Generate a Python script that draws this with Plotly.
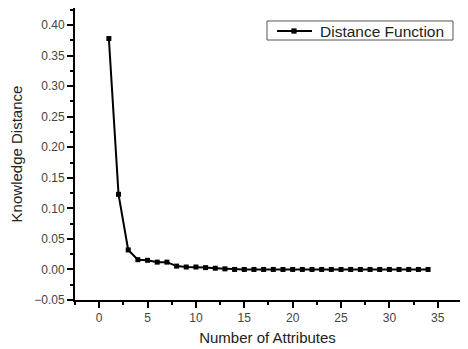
import plotly.graph_objects as go

attributes = list(range(1, 35))
distance = [0.378, 0.123, 0.032, 0.016, 0.015, 0.012, 0.012, 0.0055, 0.004, 0.004,
            0.003, 0.002, 0.001] + [0.0] * 21
series_name = "Distance Function"

fig = go.Figure()
fig.add_trace(go.Scatter(
    x=attributes, y=distance, mode="lines+markers", name=series_name,
    line=dict(color="black", width=2),
    marker=dict(symbol="square", size=5, color="black"),
    showlegend=False,
))

axis_common = dict(
    showline=True, linecolor="black", linewidth=2, mirror=False,
    ticks="outside", ticklen=6, tickwidth=2, tickcolor="black",
    showgrid=False, zeroline=False, automargin=False,
    tickfont=dict(family="Liberation Sans, Arial", size=12, color="#444"),
)

# legend box drawn in paper coordinates (styling only)
ly = 0.9212
shapes = [
    dict(type="rect", xref="paper", yref="paper", x0=0.4987, x1=0.9818, y0=0.8904, y1=0.9555,
         line=dict(color="#555", width=1), fillcolor="white", layer="above"),
    dict(type="line", xref="paper", yref="paper", x0=0.5247, x1=0.6156, y0=ly, y1=ly,
         line=dict(color="black", width=2), layer="above"),
    dict(type="rect", xref="paper", yref="paper", x0=0.5688 - 0.0068, x1=0.5688 + 0.0068,
         y0=ly - 0.009, y1=ly + 0.009, line=dict(color="black", width=0), fillcolor="black", layer="above"),
]

fig.update_layout(
    width=460, height=341,
    margin=dict(l=67, r=8, t=0, b=49),
    paper_bgcolor="white", plot_bgcolor="white",
    font=dict(family="Liberation Sans, Arial", color="#222"),
    xaxis=dict(range=[-2.5, 37.3], tickvals=[0, 5, 10, 15, 20, 25, 30, 35],
               minor=dict(dtick=2.5, tick0=0, ticklen=3, tickwidth=2, tickcolor="black", ticks="outside"),
               title=dict(text="Number of Attributes", font=dict(size=15), standoff=8),
               **axis_common),
    yaxis=dict(range=[-0.05, 0.428], tickvals=[-0.05, 0, 0.05, 0.1, 0.15, 0.2, 0.25, 0.3, 0.35, 0.4],
               tickformat=".2f",
               minor=dict(dtick=0.025, tick0=0, ticklen=3, tickwidth=2, tickcolor="black", ticks="outside"),
               title=dict(text="Knowledge Distance", font=dict(size=15), standoff=10),
               **axis_common),
    showlegend=False,
    shapes=shapes,
    annotations=[dict(xref="paper", yref="paper", x=0.6312, y=ly, xanchor="left", yanchor="middle",
                      text=series_name, showarrow=False,
                      font=dict(size=15.5, color="#222", family="Liberation Sans, Arial"))],
)

fig.write_html("out.html")
